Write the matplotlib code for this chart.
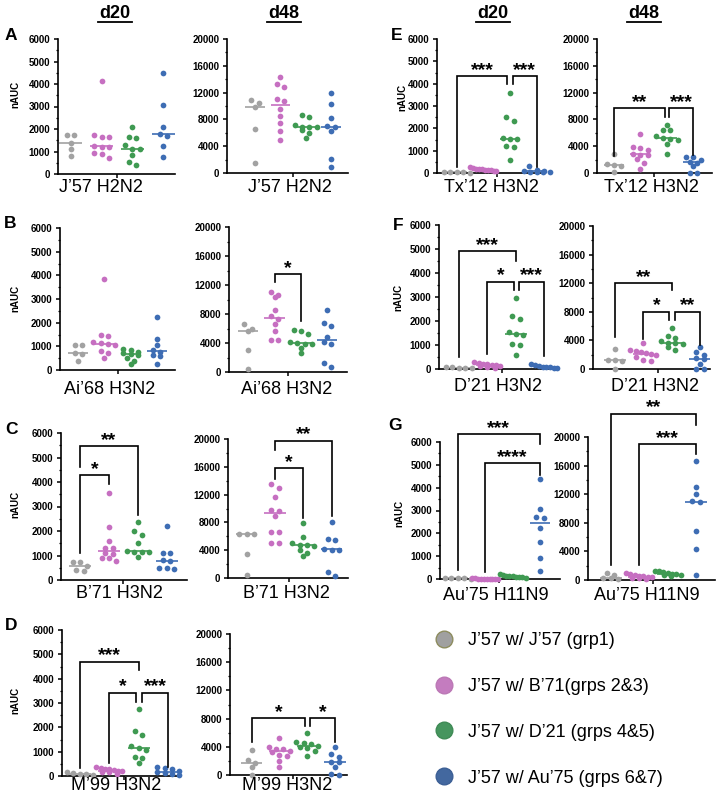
import numpy as np
import matplotlib
matplotlib.use('Agg')
import matplotlib.pyplot as plt
from matplotlib.lines import Line2D

plt.rcParams['font.family'] = ['Liberation Sans', 'DejaVu Sans']

W, H = 720, 801

# ---------------- data (nAUC values) ----------------
group_labels = ["J’57 w/ J’57 (grp1)", "J’57 w/ B’71(grps 2&3)",
                "J’57 w/ D’21 (grps 4&5)", "J’57 w/ Au’75 (grps 6&7)"]
strain_A = "J’57 H2N2"
strain_B = "Ai’68 H3N2"
strain_C = "B’71 H3N2"
strain_D = "M’99 H3N2"
strain_E = "Tx’12 H3N2"
strain_F = "D’21 H3N2"
strain_G = "Au’75 H11N9"

A_d20 = ([1730, 1730, 1400, 1130, 800],
         [4130, 1740, 1660, 1630, 1230, 1220, 1200, 920, 900, 720],
         [2100, 1650, 1600, 1300, 1130, 1100, 850, 550, 400],
         [4500, 3050, 2100, 1780, 1700, 1250, 750])
A_d48 = ([10900, 10500, 9900, 6600, 1500],
         [14400, 13300, 12900, 11000, 10700, 9600, 8500, 7400, 6300, 5000],
         [8700, 8400, 7100, 6900, 6900, 6800, 6400, 5900, 5200],
         [12000, 10300, 8200, 7000, 6800, 6300, 2100, 900])
B_d20 = ([1060, 1050, 700, 690, 400],
         [3830, 1480, 1450, 1200, 1120, 1080, 1050, 800, 700, 500],
         [900, 850, 780, 700, 690, 650, 500, 380, 250],
         [2250, 1300, 1050, 850, 780, 650, 600, 250])
B_d48 = ([6600, 6000, 5700, 3100, 350],
         [11100, 10600, 10400, 8500, 7700, 7300, 6600, 5700, 4400, 4400],
         [5800, 5600, 5300, 4200, 4000, 3900, 3800, 3300, 2600],
         [8600, 6800, 6300, 4800, 4100, 3900, 1300, 700])
C_d20 = ([750, 720, 570, 390, 380],
         [3550, 2150, 1600, 1300, 1300, 1100, 1050, 900, 880, 760],
         [2350, 2000, 1850, 1500, 1170, 1160, 1150, 1140, 920],
         [2200, 1120, 1100, 800, 760, 480, 470, 460])
C_d48 = ([6350, 6300, 6300, 3400, 480],
         [13500, 12900, 11700, 9800, 9700, 8900, 6600, 6600, 5100, 5000],
         [7950, 5900, 5100, 4800, 4700, 4650, 4000, 3600, 3100],
         [8050, 5600, 5500, 4200, 4100, 4000, 900, 350])
D_d20 = ([150, 120, 100, 80, 60],
         [380, 330, 300, 270, 230, 210, 200, 170, 150, 100],
         [2750, 1850, 1700, 1250, 1140, 1080, 800, 750, 550],
         [350, 320, 280, 200, 150, 120, 100, 60])
D_d48 = ([3550, 2100, 1650, 1200, 50],
         [5300, 3950, 3700, 3650, 3400, 3300, 2800, 2700, 2000, 1100],
         [5900, 4650, 4600, 4400, 4050, 4000, 3900, 3450, 2750],
         [4000, 2950, 2600, 1900, 1880, 1180, 100, 50])
E_d20 = ([60, 50, 40, 30, 20],
         [250, 220, 200, 180, 160, 150, 140, 120, 100, 80],
         [3600, 2500, 2330, 1560, 1540, 1540, 1200, 1150, 570],
         [300, 150, 100, 80, 60, 50, 40, 30])
E_d48 = ([2800, 1300, 1150, 1000, 100],
         [5750, 3900, 3750, 3400, 2900, 2750, 2700, 2150, 1500, 650],
         [7100, 6400, 6350, 5500, 5200, 5100, 4900, 4400, 2850],
         [2450, 2400, 2000, 1700, 1450, 1000, 50, 30])
F_d20 = ([100, 80, 60, 50, 40],
         [300, 250, 220, 200, 170, 150, 130, 110, 90, 60],
         [2950, 2200, 2100, 1550, 1450, 1400, 1050, 1000, 600],
         [200, 150, 120, 100, 90, 80, 60, 50])
F_d48 = ([2800, 1300, 1200, 1100, 50],
         [3600, 2600, 2500, 2400, 2200, 2100, 2000, 1700, 1200, 1100],
         [5700, 4600, 4400, 3900, 3650, 3600, 3500, 3100, 2700],
         [3100, 2400, 2000, 1500, 1400, 700, 50, 30])
G_d20 = ([60, 50, 40, 30, 20],
         [30, 25, 20, 20, 15, 15, 10, 10, 5, 5],
         [200, 170, 150, 130, 120, 100, 90, 80, 60],
         [4370, 3050, 2720, 2650, 2250, 1620, 900, 360])
G_d48 = ([1000, 700, 300, 250, 200],
         [950, 800, 700, 550, 500, 450, 400, 300, 250, 200],
         [1300, 1200, 1050, 1000, 850, 800, 700, 650, 550],
         [16700, 13000, 12000, 11000, 10900, 6900, 4400, 700])

# significance brackets: (left x, right x, top, left-leg end, right-leg end, label)
sig_B_d48 = [(2, 3, 13470, 12400, 7000, '*')]
sig_C_d20 = [(1, 3, 5455, 4600, 2660, '**'), (1, 2, 4270, 1100, 3900, '*')]
sig_C_d48 = [(2, 4, 19760, 18460, 8900, '**'), (2, 3, 15800, 14200, 8580, '*')]
sig_D_d20 = [(1, 3, 4700, 315, 4357, '***'), (2, 2.92, 3425, 520, 3055, '*'),
             (3.1, 4, 3425, 3055, 384, '***')]
sig_D_d48 = [(1, 2.92, 8085, 4630, 7000, '*'), (3.1, 4, 8085, 7000, 4630, '*')]
sig_E_d20 = [(1, 2.9, 4340, 270, 4000, '***'), (3.1, 4, 4340, 4000, 270, '***')]
sig_E_d48 = [(1, 2.92, 9630, 2500, 8380, '**'), (3.1, 4, 9630, 8380, 2640, '***')]
sig_F_d20 = [(1, 3.02, 4900, 500, 4520, '***'), (2, 2.93, 3640, 640, 3290, '*'),
             (3.12, 4, 3640, 3290, 530, '***')]
sig_F_d48 = [(1, 3, 11960, 4480, 11000, '**'), (2, 2.92, 7990, 4250, 6820, '*'),
             (3.1, 4, 7990, 6820, 3315, '**')]
sig_G_d20 = [(1, 4, 6330, 390, 5925, '***'), (2, 4, 5080, 320, 4540, '****')]
sig_G_d48 = [(1, 4, 23270, 2100, 21730, '**'), (2, 4, 19020, 2100, 17660, '***')]

# ---------------- styling / layout ----------------
colors = ['#a2a2a2', '#c66fc1', '#3f9a52', '#3e6db4']
legend_face = ['#a0a0a0', '#c47cbf', '#46955e', '#43689f']
legend_edge = ['#8d8c5e', '#bb78b5', '#3f8a55', '#3c5f95']

# (data, sigs, strain, ymax, x0, x1, ytop, ybot, xl, xr, label_cx, label_cy)
panels = [
    (A_d20, [], strain_A, 6000, 58, 175, 39, 174, 0.59, 4.38, 101, 188),
    (A_d48, [], strain_A, 20000, 227, 348, 39, 173, -0.1, 4.67, 290, 188),
    (B_d20, [], strain_B, 6000, 60, 175, 228, 370, 0.30, 4.70, 110, 389),
    (B_d48, sig_B_d48, strain_B, 20000, 229, 347, 227, 372, 0.28, 4.74, 287, 389),
    (C_d20, sig_C_d20, strain_C, 6000, 61, 187, 433, 580, 0.34, 4.70, 119, 593),
    (C_d48, sig_C_d48, strain_C, 20000, 228, 348, 439, 578, 0.34, 4.58, 286, 593),
    (D_d20, sig_D_d20, strain_D, 6000, 62, 177, 630, 776, 0.39, 4.30, 116, 786),
    (D_d48, sig_D_d48, strain_D, 20000, 230, 347, 634, 775, 0.22, 4.43, 287, 786),
    (E_d20, sig_E_d20, strain_E, 6000, 437, 545, 39, 173, 0.26, 4.31, 491, 188),
    (E_d48, sig_E_d48, strain_E, 20000, 597, 712, 39, 173, 0.36, 4.71, 651, 188),
    (F_d20, sig_F_d20, strain_F, 6000, 439, 553, 225, 369, 0.31, 4.30, 498, 386),
    (F_d48, sig_F_d48, strain_F, 20000, 593, 710, 226, 369, 0.22, 4.35, 655, 386),
    (G_d20, sig_G_d20, strain_G, 6000, 440, 560, 442, 579, 0.35, 4.73, 496, 596),
    (G_d48, sig_G_d48, strain_G, 20000, 588, 715, 437, 580, 0.20, 4.67, 647, 596),
]

fig = plt.figure(figsize=(W / 100, H / 100), dpi=100)


def fx(x):
    return x / W


def fy(y):
    return 1 - y / H


def swarm_x(ax, xc, vals, d_px=7.3, row_px=4.5, max_half=13.0):
    vals = np.asarray(vals, float)
    order = np.argsort(-vals, kind='stable')
    trans = ax.transData
    pts = trans.transform(np.column_stack([np.full(len(vals), xc), vals]))
    inv = trans.inverted()
    rows, cur = [], []
    for i in order:
        if cur and (pts[cur[0], 1] - pts[i, 1]) > row_px:
            rows.append(cur)
            cur = []
        cur.append(i)
    if cur:
        rows.append(cur)
    xs = np.full(len(vals), float(xc))
    for row in rows:
        n = len(row)
        step = d_px if n == 1 else min(d_px, 2 * max_half / (n - 1))
        for k, i in enumerate(row):
            off = (k - (n - 1) / 2) * step
            xs[i] = inv.transform((pts[i, 0] + off, pts[i, 1]))[0]
    return xs


for data, sigs, strain, ymax, x0, x1, yt, yb, xl, xr, lcx, lcy in panels:
    ax = fig.add_axes([fx(x0), fy(yb), (x1 - x0) / W, (yb - yt) / H])
    ax.set_xlim(xl, xr)
    ax.set_ylim(0, ymax)
    for s in ['top', 'right']:
        ax.spines[s].set_visible(False)
    for s in ['left', 'bottom']:
        ax.spines[s].set_linewidth(1.2)
    if ymax == 6000:
        ax.set_yticks(np.arange(0, 6001, 1000))
        ax.set_yticks(np.arange(0, 6001, 500), minor=True)
    else:
        ax.set_yticks(np.arange(0, 20001, 4000))
        ax.set_yticks(np.arange(0, 20001, 2000), minor=True)
    ax.set_xticks([2.5])
    ax.set_xticklabels([''])
    ax.tick_params(axis='both', which='major', length=3, width=1.1, pad=2.5,
                   labelsize=7, direction='out')
    ax.tick_params(axis='y', which='minor', length=1.7, width=0.9)
    for lab in ax.get_yticklabels():
        lab.set_fontweight('bold')
    for g, vals in enumerate(data):
        xc = g + 1
        xs = swarm_x(ax, xc, vals)
        ax.scatter(xs, vals, s=17, color=colors[g], linewidths=0, zorder=3,
                   clip_on=False)
        med = np.median(vals)
        ax.plot([xc - 0.38, xc + 0.38], [med, med], color=colors[g], lw=1.2,
                zorder=2, solid_capstyle='butt')
    for (xa, xb, top, ya, yb2, lab) in sigs:
        ax.plot([xa, xa, xb, xb], [ya, top, top, yb2], color='black', lw=1.2,
                clip_on=False, solid_joinstyle='miter', zorder=4)
        ax.annotate(lab, xy=((xa + xb) / 2, top), xytext=(0, 1.0),
                    textcoords='offset points', ha='center', va='baseline',
                    fontsize=14, fontweight='bold', annotation_clip=False)
    fig.text(fx(lcx), fy(lcy), strain, ha='center', va='center', fontsize=13)

# y-axis titles
for (x, y) in [(15, 94), (15, 298), (15, 504), (15, 700),
               (402, 97), (398, 297), (399, 513)]:
    fig.text(fx(x), fy(y), 'nAUC', rotation=90, ha='center', va='center',
             fontsize=7, fontweight='bold')

# panel letters
for lab, (x, y) in zip('ABCDEFG', [(10.5, 35), (10, 223), (11, 430), (11, 626),
                                   (397, 36), (398, 226), (395, 426)]):
    fig.text(fx(x), fy(y), lab, ha='center', va='center', fontsize=12.5,
             fontweight='bold')

# column headers (bold, underlined)
for lab, x in [('d20', 115), ('d48', 284), ('d20', 493), ('d48', 644)]:
    fig.text(fx(x), fy(14), lab, ha='center', va='center', fontsize=13,
             fontweight='bold')
    fig.add_artist(Line2D([fx(x - 17), fx(x + 17)], [fy(22), fy(22)],
                          color='black', lw=1.3))

# legend
handles = [Line2D([], [], marker='o', ls='', ms=12, mfc=legend_face[i],
                  mec=legend_edge[i], mew=1.0) for i in range(4)]
fig.legend(handles, group_labels, loc='upper left',
           bbox_to_anchor=(fx(430), fy(632)), frameon=False, fontsize=13,
           handlelength=1.6, handletextpad=0.5, labelspacing=1.6,
           borderpad=0, borderaxespad=0)

fig.savefig('out.png', dpi=100)
